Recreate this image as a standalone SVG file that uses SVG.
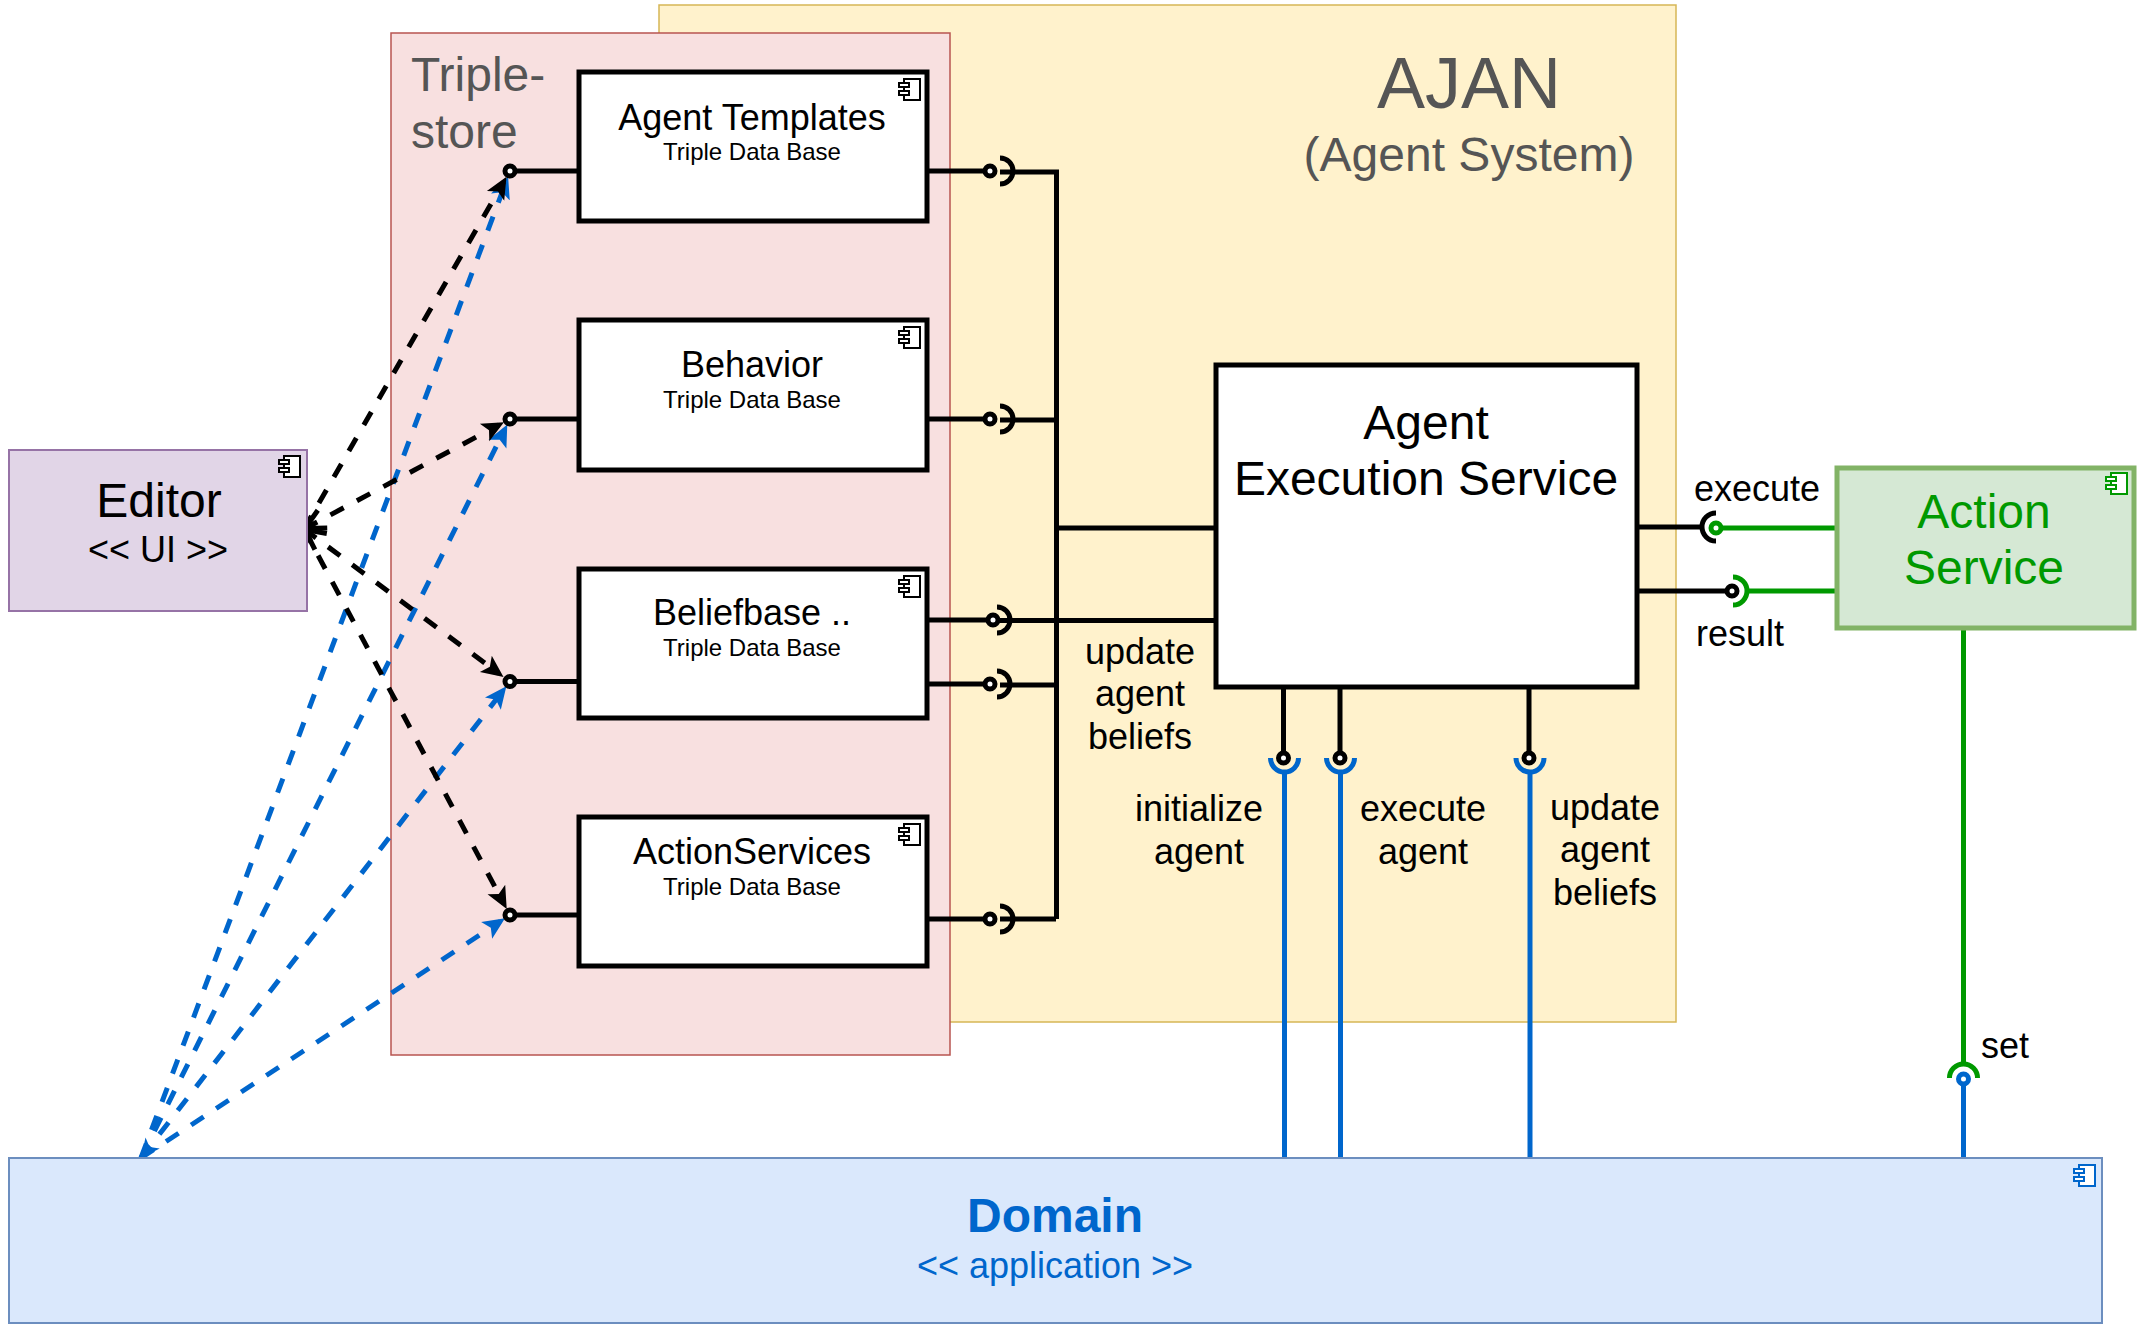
<svg xmlns="http://www.w3.org/2000/svg" width="2144" height="1334" viewBox="0 0 2144 1334">
<style>
text{font-family:"Liberation Sans",Arial,sans-serif;text-anchor:middle;fill:#000}
.k{fill:none;stroke:#000;stroke-width:5}
.d{fill:none;stroke:#000;stroke-width:5;stroke-dasharray:15 15;marker-end:url(#a)}
.b{fill:none;stroke:#0066cc;stroke-width:5;stroke-dasharray:15 15;marker-end:url(#ab)}
.bs{fill:none;stroke:#0066cc;stroke-width:5}
.gs{fill:none;stroke:#009900;stroke-width:5}
.box{fill:#fff;stroke:#000;stroke-width:5}
.sm{font-size:24px}
.nm{font-size:36px}
.lab{font-size:36px}
.big{font-size:48px}
.dot{fill:#fff;stroke:#000;stroke-width:5}
.dotg{fill:#fff;stroke:#009900;stroke-width:5}
.dotb{fill:#fff;stroke:#0066cc;stroke-width:5}
.t{fill:#555;text-anchor:start}
</style>
<defs>
<marker id="a" markerWidth="30" markerHeight="24" refX="16" refY="12" orient="auto" markerUnits="userSpaceOnUse"><path d="M0 2L22 12L0 22L5 12Z" fill="#000"/></marker>
<marker id="ab" markerWidth="30" markerHeight="24" refX="16" refY="12" orient="auto" markerUnits="userSpaceOnUse"><path d="M0 2L22 12L0 22L5 12Z" fill="#0066cc"/></marker>
<marker id="as" markerWidth="30" markerHeight="30" refX="3" refY="15" orient="auto" markerUnits="userSpaceOnUse"><path d="M24 5L4 15L24 25" fill="none" stroke="#000" stroke-width="5"/></marker>
<marker id="abs" markerWidth="24" markerHeight="24" refX="0" refY="12" orient="auto" markerUnits="userSpaceOnUse"><path d="M19 3L0 12L19 21L14 12Z" fill="#0066cc"/></marker>
<g id="ic"><rect x="5" y="0" width="16" height="21" fill="#fff" stroke="currentColor" stroke-width="2"/><rect x="0" y="4" width="10" height="4" fill="#fff" stroke="currentColor" stroke-width="2"/><rect x="0" y="12" width="10" height="4" fill="#fff" stroke="currentColor" stroke-width="2"/></g>
</defs>
<rect x="659" y="5" width="1017" height="1017" fill="#fff2cc" stroke="#d6b656" stroke-width="1.5"/>
<rect x="391" y="33" width="559" height="1022" fill="#f8e0e0" stroke="#b85450" stroke-width="1.5"/>
<text x="1469" y="108" font-size="72" style="fill:#555">AJAN</text>
<text x="1469" y="171" font-size="48" style="fill:#555">(Agent System)</text>
<text x="411" y="91" font-size="48" class="t">Triple-</text>
<text x="411" y="148" font-size="48" class="t">store</text>
<g id="connectors">
<path class="k" d="M510 171H579M510 419H579M510 681.500H579M510 915H579"/>
<path class="k" d="M928 171H990M928 419H990M928 620H993M928 684H990M928 919H990"/>
<path class="k" d="M1056.500 172V919M1000 172H1059M1000 420H1056M1056 528H1218M1000 620.500H1218M1000 685H1056M1000 919H1056"/>
<path class="k" d="M1000 158a13 13 0 0 1 0 26M1000 406a13 13 0 0 1 0 26M997 607a13 13 0 0 1 0 26M997 671a13 13 0 0 1 0 26M1000 906a13 13 0 0 1 0 26"/>
<circle class="dot" cx="990" cy="171" r="5"/><circle class="dot" cx="990" cy="419" r="5"/><circle class="dot" cx="993" cy="620" r="5"/><circle class="dot" cx="990" cy="684" r="5"/><circle class="dot" cx="990" cy="919" r="5"/>
<path class="k" d="M1283.500 688V758M1340 688V758M1529 688V758"/>
<path class="bs" d="M1284.500 772V1160M1340.500 772V1160M1530 772V1160M1963.500 1080V1160"/>
<path class="bs" d="M1270.500 758a14 14 0 0 0 28 0M1326.500 758a14 14 0 0 0 28 0M1516 758a14 14 0 0 0 28 0"/>
<circle class="dot" cx="1283.500" cy="758" r="5"/><circle class="dot" cx="1340" cy="758" r="5"/><circle class="dot" cx="1529" cy="758" r="5"/>
<path class="k" d="M1637 527H1703M1637 591H1732"/>
<path class="gs" d="M1720 528H1836M1747 591H1836M1963.500 630V1064"/>
<path class="k" d="M1716 513a14 14 0 0 0 0 28"/>
<path class="gs" d="M1733 577a14 14 0 0 1 0 28M1949.500 1078a14 14 0 0 1 28 0"/>
<circle class="dotg" cx="1716" cy="528" r="5"/>
<circle class="dot" cx="1732" cy="591" r="5"/>
<circle class="dotb" cx="1963.500" cy="1079" r="5"/>
<path class="b" d="M141 1158L506 182"/>
<path class="b" d="M141 1158L504.600 429.800"/>
<path class="b" d="M141 1158L502.700 691" style="marker-start:url(#abs)"/>
<path class="b" d="M141 1158L500 921.600"/>
<path class="d" d="M304 529L503.500 182"/>
<path class="d" d="M304 529L498.700 425" style="marker-start:url(#as)"/>
<path class="d" d="M304 529L498.700 673.400" style="marker-start:url(#as)"/>
<path class="d" d="M304 529L503.900 903.600"/>
<circle class="dot" cx="510" cy="171" r="5"/><circle class="dot" cx="510" cy="419" r="5"/><circle class="dot" cx="510" cy="681.500" r="5"/><circle class="dot" cx="510" cy="915" r="5"/>
</g>
<g id="templates"><rect class="box" x="579" y="72" width="348" height="149"/><text x="752" y="130" class="nm">Agent Templates</text><text x="752" y="160" class="sm">Triple Data Base</text><use href="#ic" x="899" y="79" color="#000"/></g>
<g id="behavior"><rect class="box" x="579" y="320" width="348" height="150"/><text x="752" y="377" class="nm">Behavior</text><text x="752" y="408" class="sm">Triple Data Base</text><use href="#ic" x="899" y="327" color="#000"/></g>
<g id="beliefbase"><rect class="box" x="579" y="569" width="348" height="149"/><text x="752" y="625" class="nm">Beliefbase ..</text><text x="752" y="656" class="sm">Triple Data Base</text><use href="#ic" x="899" y="576" color="#000"/></g>
<g id="actionservices"><rect class="box" x="579" y="817" width="348" height="149"/><text x="752" y="864" class="nm">ActionServices</text><text x="752" y="895" class="sm">Triple Data Base</text><use href="#ic" x="899" y="824" color="#000"/></g>
<g id="editor"><rect x="9" y="450" width="298" height="161" fill="#e1d5e7" stroke="#9673a6" stroke-width="2"/><text x="159" y="517" class="big">Editor</text><text x="158" y="562" class="nm">&lt;&lt; UI &gt;&gt;</text><use href="#ic" x="279" y="456" color="#000"/></g>
<g id="execution"><rect class="box" x="1216" y="365" width="421" height="322"/><text x="1426" y="439" class="big">Agent</text><text x="1426" y="495" class="big">Execution Service</text></g>
<g id="action"><rect x="1837" y="468" width="297" height="160" fill="#d5e8d4" stroke="#82b366" stroke-width="5"/><text x="1984" y="528" class="big" style="fill:#009900">Action</text><text x="1984" y="584" class="big" style="fill:#009900">Service</text><use href="#ic" x="2106" y="473" color="#009900"/></g>
<g id="domain"><rect x="9" y="1158" width="2093" height="165" fill="#dae8fc" stroke="#6c8ebf" stroke-width="2"/><text x="1055" y="1232" class="big" style="font-weight:bold;fill:#0066cc">Domain</text><text x="1055" y="1278" class="nm" style="fill:#0066cc">&lt;&lt; application &gt;&gt;</text><use href="#ic" x="2074" y="1165" color="#0066cc"/></g>
<g id="labels">
<text x="1757" y="501" class="lab">execute</text><text x="1740" y="646" class="lab">result</text>
<text x="1140" y="664" class="lab">update</text><text x="1140" y="706" class="lab">agent</text><text x="1140" y="749" class="lab">beliefs</text>
<text x="1199" y="821" class="lab">initialize</text><text x="1199" y="864" class="lab">agent</text>
<text x="1423" y="821" class="lab">execute</text><text x="1423" y="864" class="lab">agent</text>
<text x="1605" y="820" class="lab">update</text><text x="1605" y="862" class="lab">agent</text><text x="1605" y="905" class="lab">beliefs</text>
<text x="2005" y="1058" class="lab">set</text>
</g>
</svg>
